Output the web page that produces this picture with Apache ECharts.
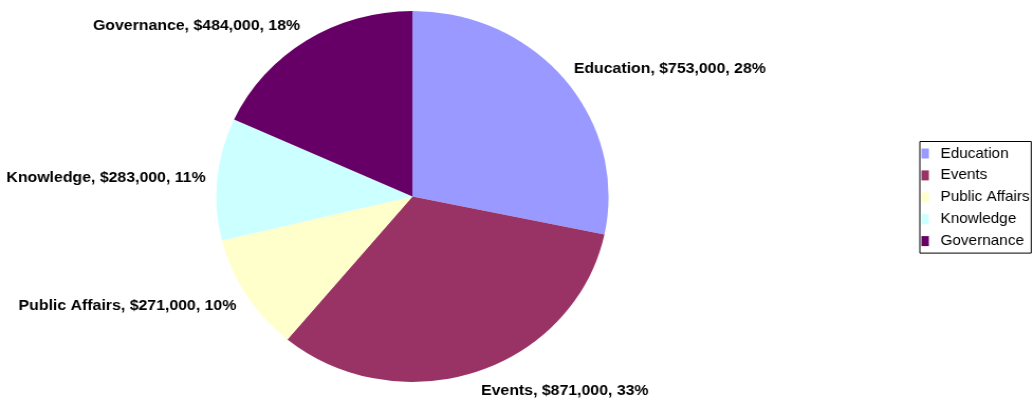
<!DOCTYPE html>
<html><head><meta charset="utf-8">
<script src="https://cdn.jsdelivr.net/npm/echarts@6/dist/echarts.min.js"></script>
<style>
html,body{margin:0;padding:0;background:#fff;overflow:hidden;width:1034px;height:401px}
#c{width:978px;height:401px;transform:scaleX(1.0573);transform-origin:0 0}
</style>
</head><body><div id="c"></div>
<script>
const categories = ['Education', 'Events', 'Public Affairs', 'Knowledge', 'Governance'];
const values = [753000, 871000, 271000, 283000, 484000];
const colors = ['#9999FF', '#993366', '#FFFFCC', '#CCFFFF', '#660066'];

const total = values.reduce((a, b) => a + b, 0);
// vertical direction component of each slice's mid-angle (clockwise from 12 o'clock)
const midDirY = [];
(function () {
  let acc = 0;
  values.forEach(v => {
    const mid = (acc + v / 2) / total * 2 * Math.PI;
    midDirY.push(-Math.cos(mid));
    acc += v;
  });
})();

const chart = echarts.init(document.getElementById('c'));
const fmt = v => '$' + String(v).replace(/\B(?=(\d{3})+(?!\d))/g, ',');
chart.setOption({
  animation: false,
  color: colors,
  legend: {
    orient: 'vertical',
    left: 870, top: 141.5,
    padding: [4.5, 1.5, 4.5, 1.5],
    borderColor: '#000', borderWidth: 1,
    itemWidth: 7, itemHeight: 10, itemGap: 6.9,
    icon: 'rect',
    textStyle: { fontFamily: 'Liberation Sans, Arial', fontSize: 14.5, color: '#000', padding: [0, 0, 0, 6] },
    data: categories
  },
  series: [{
    type: 'pie',
    center: [390.1, 196.5],
    radius: 185.5,
    startAngle: 90,
    clockwise: true,
    percentPrecision: 0,
    avoidLabelOverlap: false,
    itemStyle: { borderWidth: 0 },
    label: {
      show: true,
      position: 'outside',
      fontFamily: 'Liberation Sans, Arial',
      fontWeight: 'bold',
      fontSize: 15,
      color: '#000',
      distanceToLabelLine: 0,
      formatter: p => p.name + ', ' + fmt(p.value) + ', ' + p.percent + '%'
    },
    labelLine: { show: false, length: 11, length2: 0 },
    labelLayout: p => ({ dy: 1 + midDirY[p.dataIndex] * 8 }),
    emphasis: { disabled: true },
    data: categories.map((n, i) => ({ name: n, value: values[i] }))
  }]
});
</script></body></html>
